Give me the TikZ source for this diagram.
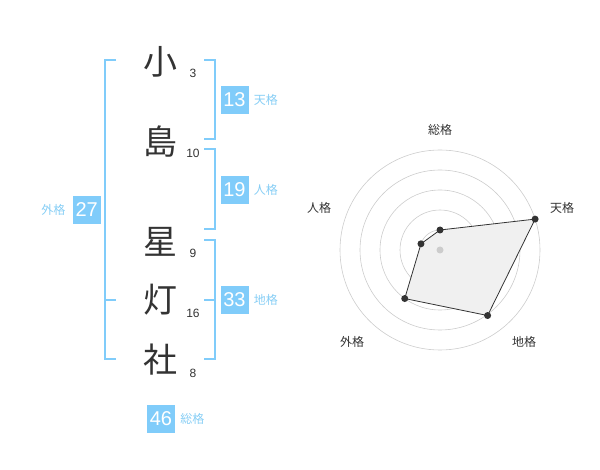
\documentclass[tikz,border=0pt]{standalone}
\usepackage{fontspec}
\setmainfont{Liberation Sans}
\newfontfamily\jpfont{Noto Sans CJK JP}
\usetikzlibrary{positioning}
\definecolor{kakublue}{RGB}{128,204,250}
\definecolor{kakutext}{RGB}{135,206,245}
\definecolor{inkgray}{RGB}{51,51,51}
\definecolor{ringgray}{RGB}{204,204,204}
\definecolor{webfill}{RGB}{240,240,240}

\begin{document}
\begin{tikzpicture}[x=1pt,y=-1pt,
    kanji/.style={font=\jpfont\fontsize{34}{34}\selectfont, text=inkgray, inner sep=0pt},
    strokes/.style={font=\fontsize{12}{12}\selectfont, text=inkgray, inner sep=0pt},
    kakubox/.style={fill=kakublue, text=white, minimum size=28pt, inner sep=0pt, font=\fontsize{20}{20}\selectfont},
    kakulabel/.style={text=kakutext, font=\jpfont\fontsize{12}{12}\selectfont, inner sep=0pt},
    bracket/.style={draw=kakublue, line width=1.8pt},
    ring/.style={draw=ringgray, line width=0.6pt},
    axislabel/.style={text=inkgray, font=\jpfont\fontsize{12}{12}\selectfont, inner sep=0pt},
    dot/.style={circle, fill=inkgray, inner sep=0pt, minimum size=7pt}]
\useasboundingbox (0,0) rectangle (600,470);

\node[kanji] (ko) at (160,62) {小};
\node[kanji] (shima) at (160,142) {島};
\node[kanji] (hoshi) at (160,242) {星};
\node[kanji] (tomo) at (160,300) {灯};
\node[kanji] (yashiro) at (160,360) {社};
\node[strokes] (koN) at (193,73) {3};
\node[strokes] (shimaN) at (193,153) {10};
\node[strokes] (hoshiN) at (193,253) {9};
\node[strokes] (tomoN) at (193,313) {16};
\node[strokes] (yashiroN) at (193,373) {8};

\coordinate (gaiT) at (116,60);
\coordinate (gaiM) at (116,300);
\coordinate (gaiB) at (116,359);
\draw[bracket] (gaiT) -| (105,359) -- (gaiB);
\draw[bracket] (105,300) -- (gaiM);

\coordinate (tenT) at (204,60);
\coordinate (tenB) at (204,139);
\draw[bracket] (tenT) -| (215,139) -- (tenB);
\coordinate (jinT) at (204,149);
\coordinate (jinB) at (204,229);
\draw[bracket] (jinT) -| (215,229) -- (jinB);
\coordinate (chiT) at (204,240);
\coordinate (chiM) at (204,300);
\coordinate (chiB) at (204,359);
\draw[bracket] (chiT) -| (215,359) -- (chiB);
\draw[bracket] (215,300) -- (chiM);

\node[kakubox] (gai) at (86.7,210) {27};
\node[kakulabel, left=7pt of gai] (gaiL) {外格};
\node[kakubox] (ten) at (234.5,100) {13};
\node[kakulabel, right=5pt of ten] (tenL) {天格};
\node[kakubox] (jin) at (234.5,190) {19};
\node[kakulabel, right=5pt of jin] (jinL) {人格};
\node[kakubox] (chi) at (234.5,300) {33};
\node[kakulabel, right=5pt of chi] (chiL) {地格};
\node[kakubox] (so) at (161,419) {46};
\node[kakulabel, right=5pt of so] (soL) {総格};

\coordinate (hub) at (440,250);
\foreach \r in {20,40,60,80,100}
  \draw[ring] (hub) circle[radius=\r pt];
\foreach \name/\ang/\val/\lx/\ly/\txt in {so/-90/20/440/130/総格, ten/-18/100/562/208/天格, chi/54/81/524/342/地格, gai/126/60/352/342/外格, jin/198/20/319/208/人格} {
  \coordinate (\name P) at ([shift={(\ang:\val)}]hub);
  \node[axislabel] (\name A) at (\lx,\ly) {\txt};
}
\draw[fill=webfill, draw=inkgray, line width=0.8pt] (soP) -- (tenP) -- (chiP) -- (gaiP) -- (jinP) -- cycle;
\node[circle, fill=ringgray, inner sep=0pt, minimum size=7pt] (hubdot) at (hub) {};
\foreach \name in {so,ten,chi,gai,jin}
  \node[dot] at (\name P) {};
\end{tikzpicture}
\end{document}
